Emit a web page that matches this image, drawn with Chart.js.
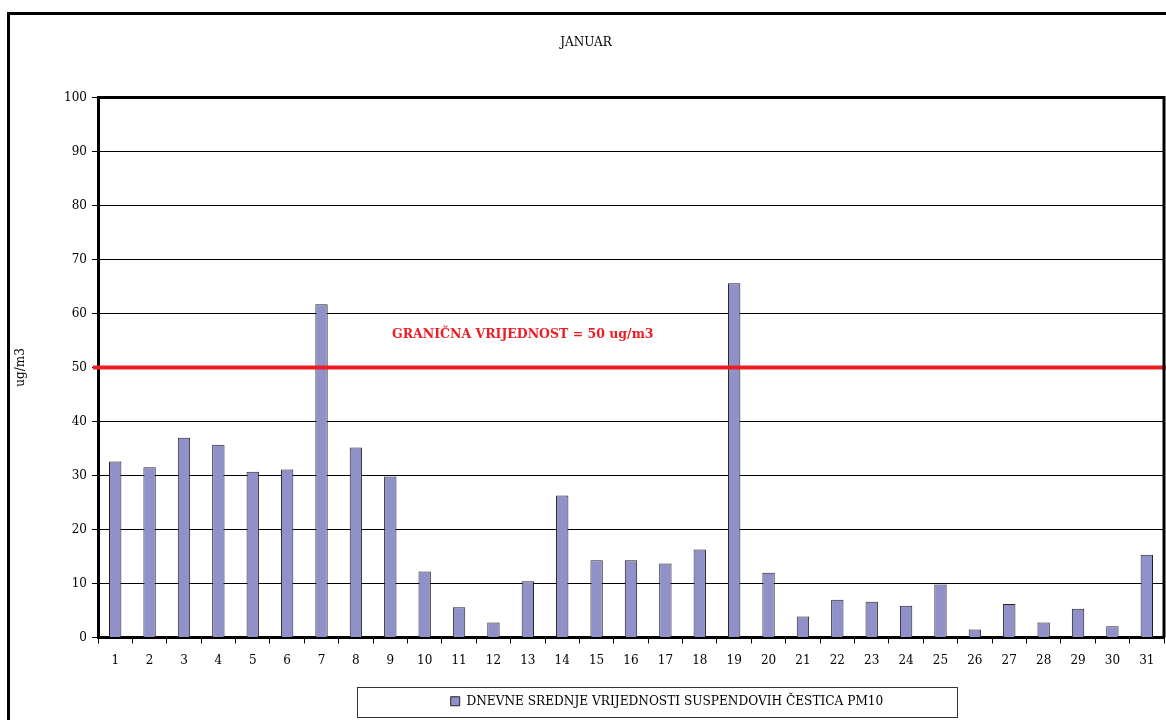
<!DOCTYPE html>
<html>
<head>
<meta charset="utf-8">
<script src="https://cdn.jsdelivr.net/npm/chart.js@4/dist/chart.umd.min.js"></script>
<style>
  html, body { margin: 0; padding: 0; background: #fff; }
  #wrap { width: 1166px; height: 720px; position: relative; }
</style>
</head>
<body>
<div id="wrap"><canvas id="pm10Chart" width="1166" height="720"></canvas></div>
<script>
// dani u mjesecu i dnevne srednje vrijednosti PM10 (ug/m3)
const days = ['1','2','3','4','5','6','7','8','9','10','11','12','13','14','15','16',
              '17','18','19','20','21','22','23','24','25','26','27','28','29','30','31'];
const pm10Values = [32.6, 31.5, 37.0, 35.7, 30.7, 31.1, 61.7, 35.2, 29.8, 12.2, 5.6, 2.8,
                    10.4, 26.3, 14.3, 14.3, 13.7, 16.3, 65.6, 12.0, 3.9, 7.0, 6.6, 5.9,
                    9.8, 1.5, 6.2, 2.8, 5.3, 2.1, 15.3];
const limitValue = 50;
const yTicks = [0, 10, 20, 30, 40, 50, 60, 70, 80, 90, 100];

const serif = "'DejaVu Serif', 'Liberation Serif', serif";
const condensed = "'DejaVu Serif Condensed', 'DejaVu Serif', serif";

// okvir oko cijele slike, okvir oko grafika, granicna vrijednost, okvir legende
const decorPlugin = {
    id: 'decor',
    afterLayout(chart) {
        // legenda je u originalu pomaknuta udesno
        chart.legend.left += 81;
        chart.legend.right += 81;
    },
    beforeDraw(chart) {
        const ctx = chart.ctx;
        ctx.save();
        ctx.fillStyle = '#fff';
        ctx.fillRect(0, 0, chart.width, chart.height);
        ctx.strokeStyle = '#000';
        ctx.lineWidth = 3;
        ctx.strokeRect(8.5, 13.5, chart.width + 20, chart.height + 20);
        ctx.restore();
    },
    afterDatasetsDraw(chart) {
        const ctx = chart.ctx;
        const a = chart.chartArea;
        const y = chart.scales.y.getPixelForValue(limitValue);
        ctx.save();
        ctx.strokeStyle = '#ee1c25';
        ctx.lineWidth = 4;
        ctx.beginPath();
        ctx.moveTo(a.left - 5, y);
        ctx.lineTo(chart.width, y);
        ctx.stroke();

        ctx.fillStyle = '#ee1c25';
        ctx.font = "bold 12.5px " + serif;
        ctx.textBaseline = 'middle';
        ctx.fillText('GRANIČNA VRIJEDNOST = 50 ug/m3', a.left + 294, chart.scales.y.getPixelForValue(56));

        // gornja i desna ivica grafika
        ctx.strokeStyle = '#000';
        ctx.lineWidth = 3;
        ctx.beginPath();
        ctx.moveTo(a.left, a.top);
        ctx.lineTo(a.right, a.top);
        ctx.lineTo(a.right, a.bottom);
        ctx.stroke();
        ctx.restore();
    },
    afterDraw(chart) {
        const ctx = chart.ctx;
        ctx.save();
        ctx.strokeStyle = '#333';
        ctx.lineWidth = 1;
        ctx.strokeRect(357.5, 687.5, 600, 30);
        ctx.restore();
    }
};

new Chart(document.getElementById('pm10Chart'), {
    type: 'bar',
    data: {
        labels: days,
        datasets: [{
            label: 'DNEVNE SREDNJE VRIJEDNOSTI SUSPENDOVIH ČESTICA PM10',
            data: pm10Values,
            backgroundColor: '#9191c9',
            borderColor: '#222',
            borderWidth: 1,
            categoryPercentage: 1,
            barPercentage: 0.36
        }]
    },
    options: {
        responsive: false,
        animation: false,
        layout: { padding: { left: 8, right: 2, top: 0, bottom: 2 } },
        plugins: {
            title: {
                display: true,
                text: 'JANUAR',
                color: '#000',
                font: { family: serif, size: 12, weight: 'normal' },
                padding: { top: 36, bottom: 47 }
            },
            legend: {
                position: 'bottom',
                labels: {
                    color: '#000',
                    font: { family: condensed, size: 13.5 },
                    boxWidth: 9,
                    boxHeight: 9,
                    padding: 8
                }
            },
            tooltip: { enabled: false }
        },
        scales: {
            x: {
                grid: { display: true, drawOnChartArea: false, color: '#000', tickLength: 6, offset: true },
                border: { display: true, color: '#000', width: 3 },
                ticks: { color: '#000', font: { family: serif, size: 12 }, padding: 10, maxRotation: 0, autoSkip: false },
                afterFit(scale) { scale.height = 49; }
            },
            y: {
                min: 0,
                max: 100,
                afterBuildTicks(scale) { scale.ticks = yTicks.map(v => ({ value: v })); },
                grid: { color: '#000', lineWidth: 1, tickLength: 6 },
                border: { display: true, color: '#000', width: 3 },
                ticks: { color: '#000', font: { family: serif, size: 12 }, padding: 5 },
                title: {
                    display: true,
                    text: 'ug/m3',
                    color: '#000',
                    font: { family: serif, size: 12 },
                    padding: { top: 6, bottom: 24 }
                },
                afterFit(scale) { scale.width = 90; }
            }
        }
    },
    plugins: [decorPlugin]
});
</script>
</body>
</html>
